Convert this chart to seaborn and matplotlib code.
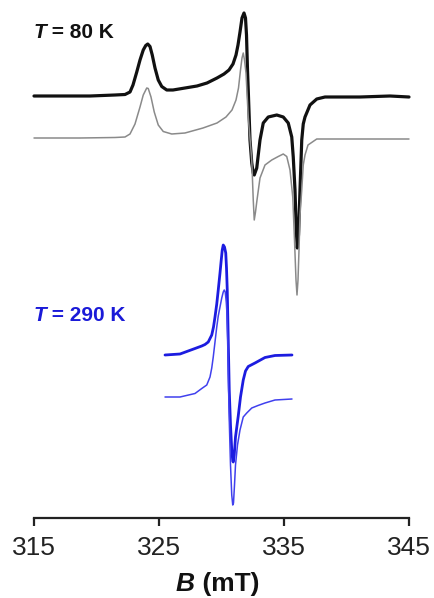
import matplotlib
matplotlib.use("Agg")
import matplotlib.pyplot as plt
import seaborn as sns
import pandas as pd

# ---- data (B in mT, intensity in arbitrary units incl. vertical offsets) ----
b_80k_exp = [315.00, 317.08, 319.48, 321.48, 322.28, 322.68, 322.92, 323.22, 323.48, 323.74,
             323.94, 324.10, 324.28, 324.46, 324.68, 324.94, 325.22, 325.62, 326.12, 327.08,
             328.04, 328.84, 329.64, 330.20, 330.60, 330.92, 331.16, 331.32, 331.48, 331.64,
             331.80, 331.92, 332.00, 332.08, 332.14, 332.28, 332.42, 332.54, 332.62, 332.82,
             332.94, 333.08, 333.34, 333.74, 334.42, 334.94, 335.34, 335.62, 335.74, 335.88,
             335.98, 336.06, 336.16, 336.28, 336.42, 336.54, 336.68, 337.08, 337.62, 338.28,
             341.08, 343.48, 345.00]
i_80k_exp = [422, 422, 422, 423, 423.5, 426, 433, 446, 458, 468,
             472.5, 474, 471.5, 463, 450, 438, 431.5, 428, 428, 430,
             432, 435, 440, 444, 448, 454, 463, 473, 486, 500,
             505, 500, 483, 448, 428, 378, 355, 345, 343, 350,
             363, 378, 395, 401, 403, 401, 395, 381, 361, 328,
             288, 270, 283, 328, 378, 394, 401, 413, 419, 421,
             421, 422, 421]

b_80k_sim = [315.00, 318.68, 321.48, 322.28, 322.68, 323.08, 323.48, 323.74, 324.02, 324.14,
             324.36, 324.62, 324.94, 325.34, 326.02, 327.08, 328.52, 329.64, 330.36, 330.84,
             331.16, 331.36, 331.52, 331.64, 331.74, 331.84, 331.96, 332.14, 332.42, 332.54,
             332.62, 332.72, 332.84, 333.08, 333.48, 334.02, 334.54, 334.94, 335.22, 335.48,
             335.70, 335.84, 335.96, 336.04, 336.12, 336.20, 336.28, 336.42, 336.54, 336.68,
             336.92, 337.62, 338.68, 345.00]
i_80k_sim = [380, 380, 380.5, 381, 384, 394, 411, 423, 430, 429.5,
             421, 406, 393, 386.5, 384, 385, 390, 395, 401, 408,
             418, 430, 448, 460, 465, 458, 445, 401, 358, 318,
             298, 306, 318, 340, 353, 358, 361.5, 364, 361.5, 348,
             321, 278, 238, 223, 238, 268, 303, 328, 353, 363,
             373, 379, 379, 379]

b_290k_exp = [325.48, 326.68, 327.88, 328.42, 328.68, 328.94, 329.22, 329.36, 329.48, 329.62,
              329.74, 329.88, 329.98, 330.06, 330.14, 330.24, 330.34, 330.40, 330.46, 330.54,
              330.62, 330.72, 330.82, 330.90, 330.94, 331.02, 331.12, 331.34, 331.52, 331.74,
              331.92, 332.14, 332.68, 333.48, 334.28, 335.64]
i_290k_exp = [163, 164, 169.5, 172, 173.5, 176, 183, 191, 201, 214,
              228, 245, 258, 268, 273, 271, 265, 250, 228, 178,
              128, 93, 68, 57, 56, 63, 81, 102, 121, 138,
              147, 151.5, 155, 160.5, 162.5, 163]

b_290k_sim = [325.48, 326.68, 327.88, 328.42, 328.82, 329.08, 329.22, 329.34, 329.48, 329.62,
              329.74, 329.88, 330.02, 330.14, 330.22, 330.30, 330.38, 330.42, 330.50, 330.54,
              330.62, 330.72, 330.82, 330.90, 330.96, 331.04, 331.12, 331.28, 331.48, 331.74,
              332.02, 332.42, 332.92, 333.48, 334.28, 335.64]
i_290k_sim = [121, 121, 124.5, 129.5, 133, 141, 150, 161, 176, 191,
              202, 211, 220, 226, 228, 226, 216, 208, 178, 145,
              98, 53, 23, 13, 15, 33, 53, 73, 88, 101,
              105, 110, 112.5, 115, 118, 119]

x_ticks = [315, 325, 335, 345]
label_80k = "T"
label_80k_rest = " = 80 K"
label_290k = "T"
label_290k_rest = " = 290 K"

# ---- figure ----
sns.set_style("white")
plt.rcParams["font.family"] = ["Liberation Sans", "DejaVu Sans"]

W, H = 435, 598
fig = plt.figure(figsize=(W / 100, H / 100), dpi=100)
ax = fig.add_axes([34 / W, (H - 518) / H, (409 - 34) / W, 518 / H])

traces = [
    (b_80k_exp, i_80k_exp, "#111111", 2.3),
    (b_80k_sim, i_80k_sim, "#8a8a8a", 1.1),
    (b_290k_exp, i_290k_exp, "#1c1ce0", 2.0),
    (b_290k_sim, i_290k_sim, "#4040ee", 1.1),
]
for b, inten, col, lw in traces:
    df = pd.DataFrame({"B": b, "I": inten})
    line = sns.lineplot(data=df, x="B", y="I", ax=ax, color=col, lw=lw,
                        sort=False, estimator=None, clip_on=False)
for ln in ax.lines:
    ln.set_solid_joinstyle("round")
    ln.set_solid_capstyle("round")

ax.set_xlim(315, 345)
ax.set_ylim(0, 518)
ax.set_xticks(x_ticks)
ax.set_xticklabels([str(t) for t in x_ticks])
ax.set_yticks([])
ax.set_xlabel("")
ax.set_ylabel("")
for s in ["left", "right", "top"]:
    ax.spines[s].set_visible(False)
ax.spines["bottom"].set_linewidth(1.6)
ax.spines["bottom"].set_color("#222222")
ax.tick_params(axis="x", direction="out", length=6, width=1.6, color="#222222",
               labelsize=19, labelcolor="#222222", pad=7, bottom=True)
ax.patch.set_alpha(0)

# temperature labels
t1 = ax.text(314.95, 480, label_80k, fontsize=15, fontweight="bold", style="italic",
             color="#111111", ha="left", va="baseline")
ax.annotate(label_80k_rest, xy=(1, 0), xycoords=t1, fontsize=15, fontweight="bold",
            color="#111111", ha="left", va="bottom")
t2 = ax.text(314.95, 197, label_290k, fontsize=15, fontweight="bold", style="italic",
             color="#1a1ad8", ha="left", va="baseline")
ax.annotate(label_290k_rest, xy=(1, 0), xycoords=t2, fontsize=15, fontweight="bold",
            color="#1a1ad8", ha="left", va="bottom")

# x-axis label
xl = fig.text(176 / W, (H - 591) / H, "B", fontsize=19, fontweight="bold", style="italic",
              color="#111111", ha="left", va="baseline")
ax.annotate(" (mT)", xy=(1, 0), xycoords=xl, fontsize=19, fontweight="bold",
            color="#111111", ha="left", va="bottom")

fig.savefig("out.png", dpi=100)
